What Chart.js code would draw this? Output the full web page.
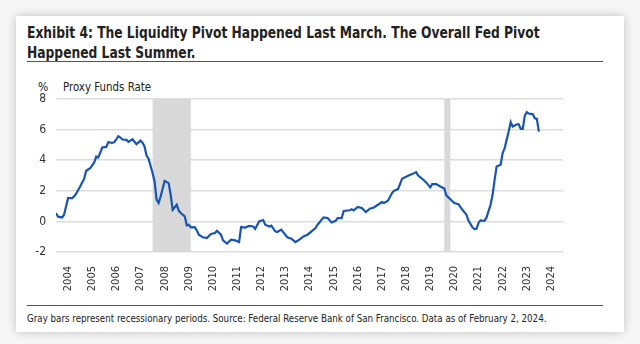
<!DOCTYPE html>
<html>
<head>
<meta charset="utf-8">
<script src="https://cdn.jsdelivr.net/npm/chart.js@4"></script>
<style>
  html, body { margin: 0; padding: 0; background: #f7f7f7; }
  #wrap { position: relative; width: 640px; height: 344px; overflow: hidden; }
  #card { position: absolute; left: 16px; top: 16px; width: 608px; height: 316px; background: #fff;
          box-shadow: 0 0 10px rgba(0,0,0,0.22); }
  .txt { position: absolute; font-family: "DejaVu Sans Condensed", sans-serif; color: #222; white-space: nowrap;
         transform-origin: left top; }
  #title { left: 27px; top: 23px; font-size: 15px; font-weight: bold; line-height: 20px; transform: scaleX(0.91); }
  .rule { position: absolute; left: 27px; width: 576px; height: 0; border-top: 1.5px solid #555; }
  #unit { left: 38px; top: 80px; font-size: 12px; }
  #series { left: 63px; top: 80px; font-size: 12px; transform: scaleX(0.95); }
  #note { left: 27px; top: 312px; font-size: 11px; transform: scaleX(0.88); }
  canvas { position: absolute; left: 0; top: 0; }
</style>
</head>
<body>
<div id="wrap">
  <div id="card"></div>
  <div class="txt" id="title">Exhibit 4: The Liquidity Pivot Happened Last March. The Overall Fed Pivot<br>Happened Last Summer.</div>
  <div class="rule" style="top:61px"></div>
  <div class="txt" id="unit">%</div>
  <div class="txt" id="series">Proxy Funds Rate</div>
  <div class="rule" style="top:305px"></div>
  <div class="txt" id="note">Gray bars represent recessionary periods. Source: Federal Reserve Bank of San Francisco. Data as of February 2, 2024.</div>
  <canvas id="grafico" width="640" height="344"></canvas>
</div>
<script>
// dados (mes, taxa em %)
var meses = [
  '2004-01','2004-02','2004-04','2004-05','2004-07','2004-09','2004-10','2004-11',
  '2005-01','2005-03','2005-04','2005-06','2005-08','2005-09','2005-10','2005-12',
  '2006-02','2006-03','2006-05','2006-06','2006-08','2006-09','2006-10','2006-12',
  '2007-01','2007-03','2007-05','2007-07','2007-08','2007-09','2007-10','2007-11',
  '2008-01','2008-02','2008-03','2008-04','2008-05','2008-07','2008-09','2008-10','2008-11',
  '2009-01','2009-02','2009-03','2009-05','2009-06','2009-07','2009-08','2009-10','2009-11','2009-12',
  '2010-02','2010-04','2010-06','2010-08','2010-09','2010-11','2010-12',
  '2011-02','2011-04','2011-06','2011-08','2011-09','2011-11',
  '2012-01','2012-03','2012-04','2012-06','2012-08','2012-09','2012-11','2012-12',
  '2013-02','2013-03','2013-05','2013-06','2013-08','2013-10','2013-12',
  '2014-02','2014-04','2014-06','2014-08','2014-10','2014-11',
  '2015-02','2015-04','2015-06','2015-08','2015-09','2015-11','2015-12',
  '2016-03','2016-04','2016-05','2016-07','2016-09','2016-11',
  '2017-01','2017-03','2017-05','2017-07','2017-08','2017-10','2017-12',
  '2018-01','2018-03','2018-04','2018-05','2018-08','2018-10','2018-12',
  '2019-01','2019-03','2019-05','2019-07','2019-08','2019-10','2019-12',
  '2020-02','2020-03','2020-05','2020-07','2020-09','2020-11',
  '2021-01','2021-02','2021-04','2021-05','2021-06','2021-07','2021-08','2021-10','2021-11',
  '2022-01','2022-02','2022-03','2022-04','2022-06','2022-07','2022-08','2022-10','2022-11','2022-12',
  '2023-01','2023-02','2023-03','2023-04','2023-05','2023-06','2023-07','2023-08','2023-09','2023-10','2023-11','2023-12',
  '2024-01'
];
var taxa = [
  0.55, 0.31, 0.26, 0.44, 1.52, 1.52, 1.63, 1.81,
  2.28, 2.79, 3.31, 3.48, 3.85, 4.24, 4.18, 4.83,
  4.87, 5.18, 5.13, 5.18, 5.57, 5.48, 5.35, 5.33,
  5.2, 5.37, 5.05, 5.28, 5.15, 4.9, 4.3, 4.1,
  3.16, 2.61, 1.42, 1.2, 1.63, 2.65, 2.5, 1.74, 0.76,
  1.09, 0.7, 0.55, 0.33, -0.26, -0.22, -0.39, -0.37, -0.59, -0.87,
  -1.04, -1.09, -0.82, -0.76, -0.61, -0.87, -1.24,
  -1.45, -1.19, -1.24, -1.35, -0.37, -0.4,
  -0.3, -0.33, -0.48, 0.0, 0.09, -0.22, -0.33, -0.28,
  -0.65, -0.69, -0.54, -0.72, -1.04, -1.13, -1.35,
  -1.19, -0.98, -0.87, -0.65, -0.43, -0.22,
  0.26, 0.22, -0.07, 0.04, 0.22, 0.22, 0.68,
  0.73, 0.79, 0.72, 0.94, 0.87, 0.61,
  0.83, 0.91, 1.09, 1.26, 1.2, 1.35, 1.85,
  2.0, 2.11, 2.44, 2.79, 2.98, 3.09, 3.22,
  3.0, 2.79, 2.55, 2.22, 2.44, 2.44, 2.28,
  2.15, 1.7, 1.45, 1.2, 1.13, 0.76,
  0.44, 0.05, -0.39, -0.5, -0.48, -0.1, 0.07, 0.04, 0.26,
  1.09, 1.74, 2.72, 3.59, 3.7, 4.46, 4.79, 5.87, 6.48, 6.2,
  6.26, 6.35, 6.35, 6.05, 6.05, 6.9, 7.14, 7.05, 7.03, 7.0, 6.74, 6.7,
  5.87
];
var anos = [2004, 2005, 2006, 2007, 2008, 2009, 2010, 2011, 2012, 2013, 2014,
            2015, 2016, 2017, 2018, 2019, 2020, 2021, 2022, 2023, 2024];
var eixoY = [-2, 0, 2, 4, 6, 8];
var recessaoInicio = ['2008-01', '2020-02'];
var recessaoFim = ['2009-08', '2020-05'];

function mesParaAno(m) {
  var p = m.split('-');
  return parseInt(p[0]) + (parseInt(p[1]) - 1) / 12;
}

var pontos = [];
for (i = 0; i < meses.length; i++) {
  pontos.push({ x: mesParaAno(meses[i]), y: taxa[i] });
}

// faixas cinzas das recessoes
var faixas = {
  id: 'faixas',
  beforeDatasetsDraw: function (chart) {
    var ctx = chart.ctx, area = chart.chartArea, sx = chart.scales.x;
    ctx.save();
    ctx.fillStyle = '#d9d9d9';
    for (i = 0; i < recessaoInicio.length; i++) {
      var a = sx.getPixelForValue(mesParaAno(recessaoInicio[i]));
      var b = sx.getPixelForValue(mesParaAno(recessaoFim[i]));
      ctx.fillRect(a, area.top, b - a, area.bottom - area.top);
    }
    ctx.restore();
  }
};

var fonte = '"DejaVu Sans Condensed", sans-serif';

var ctx = document.getElementById('grafico').getContext('2d');
var chart = new Chart(ctx, {
  type: 'line',
  data: {
    datasets: [{
      label: 'Proxy Funds Rate',
      data: pontos,
      borderColor: '#1655b5',
      borderWidth: 2.2,
      pointRadius: 0,
      tension: 0,
      fill: false
    }]
  },
  plugins: [faixas],
  options: {
    responsive: false,
    animation: false,
    layout: { padding: { left: 0, right: 77, top: 99, bottom: 0 } },
    plugins: { legend: { display: false }, tooltip: { enabled: false } },
    scales: {
      x: {
        type: 'linear',
        min: 2004,
        max: 2025,
        afterBuildTicks: function (s) {
          s.ticks = anos.map(function (a) { return { value: a + 0.5 }; });
        },
        afterFit: function (s) { s.height = 92; },
        grid: { display: false },
        border: { display: false },
        ticks: {
          autoSkip: false,
          minRotation: 90,
          maxRotation: 90,
          padding: 6,
          color: '#333',
          font: { family: fonte, size: 11 },
          callback: function (v) { return Math.floor(v); }
        }
      },
      y: {
        min: -2,
        max: 8,
        afterBuildTicks: function (s) {
          s.ticks = eixoY.map(function (v) { return { value: v }; });
        },
        afterFit: function (s) { s.width = 56; },
        grid: { color: '#dedede', lineWidth: 1.5, drawTicks: false },
        border: { display: false },
        ticks: {
          padding: 10,
          color: '#333',
          font: { family: fonte, size: 12 }
        }
      }
    }
  }
});
</script>
</body>
</html>
